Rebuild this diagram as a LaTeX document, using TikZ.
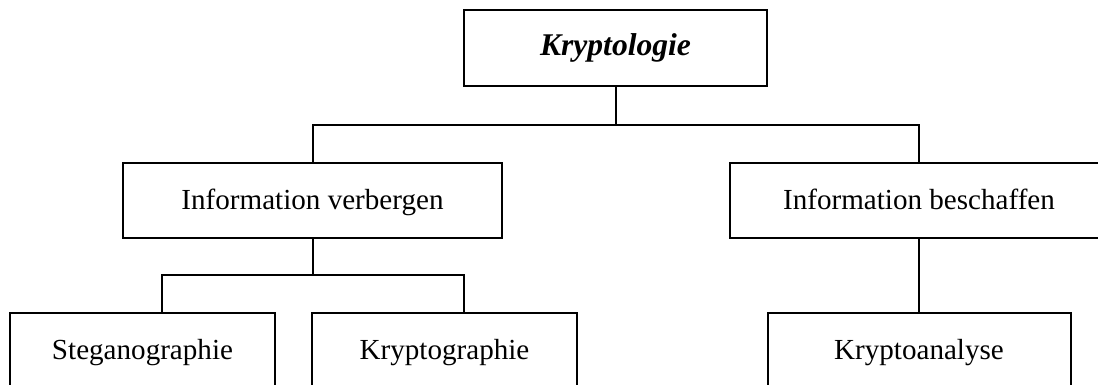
\documentclass[tikz,border=0pt]{standalone}
\usepackage{fontspec}
\setmainfont{Liberation Serif}
\begin{document}
\begin{tikzpicture}[x=0.5pt,y=-0.5pt,
  box/.style={draw, line width=1pt, minimum height=38pt, inner sep=0pt,
    text height=1.1em, text depth=0.25em,
    font=\fontsize{14.55}{17}\selectfont},
  topbox/.style={box, text height=1.05em, font=\fontsize{15.8}{18}\selectfont\bfseries\itshape},
  conn/.style={line width=1pt}]
\useasboundingbox (0,0) rectangle (1098,385);
\clip (0,0) rectangle (1098,385);
\node[topbox, minimum width=151.5pt] (K) at (615.5,48) {Kryptologie};
\node[box, minimum width=189.5pt, minimum height=37.5pt] (IV) at (312.5,200.5) {Information verbergen};
\node[box, minimum width=189pt, minimum height=37.5pt] (IB) at (919,200.5) {Information beschaffen};
\node[box, minimum width=132.5pt] (S) at (142.5,351) {Steganographie};
\node[box, minimum width=132.5pt] (KG) at (444.5,351) {Kryptographie};
\node[box, minimum width=151.5pt] (KA) at (919,351) {Kryptoanalyse};
\coordinate (b1) at (0,125);
\coordinate (b2) at (0,275);
\coordinate (s1) at (162,313);
\coordinate (s2) at (464,313);
\draw[conn] (K.south) -- (K.south |- b1);
\draw[conn] (IV.north) -- (IV.north |- b1) -| (IB.north);
\draw[conn] (IV.south) -- (IV.south |- b2);
\draw[conn] (s1) -- (s1 |- b2) -| (s2);
\draw[conn] (IB.south) -- (KA.north);
\end{tikzpicture}
\end{document}
